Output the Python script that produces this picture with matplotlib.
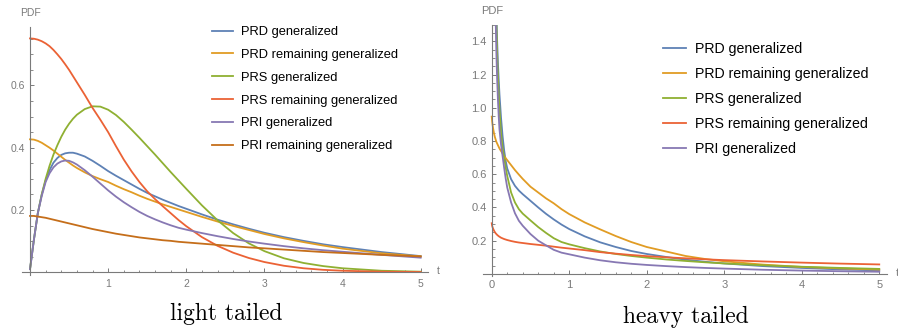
import matplotlib
matplotlib.use('Agg')
import matplotlib.pyplot as plt
import numpy as np
from matplotlib.ticker import MultipleLocator

# ---- data ----
labels = ['PRD generalized', 'PRD remaining generalized', 'PRS generalized',
          'PRS remaining generalized', 'PRI generalized', 'PRI remaining generalized']
colors = ['#5E81B5', '#E19C24', '#8FB032', '#EB6235', '#8778B3', '#C56E1A']

light_t = [0, .05, .1, .15, .2, .25, .3, .35, .4, .45, .5, .55, .6,
           .7, .8, .9, 1.0,
           1.1, 1.2, 1.3, 1.4, 1.5, 1.6, 1.7, 1.8, 1.9, 2.0,
           2.2, 2.4, 2.6, 2.8, 3.0,
           3.25, 3.5, 3.75, 4.0,
           4.5, 5.0]
light_prd = [.01, .105, .19, .25, .295, .328, .352, .367, .377, .382, .384, .384, .381,
             .372, .358, .342, .325,
             .31, .296, .282, .268, .255, .244, .233, .223, .213, .204,
             .186, .169, .154, .14, .127,
             .113, .101, .09, .081,
             .065, .052]
light_prd_rem = [.427, .426, .422, .416, .408, .4, .391, .381, .371, .361, .352, .343, .335,
                 .321, .309, .299, .29,
                 .278, .267, .257, .246, .236, .227, .218, .21, .202, .194,
                 .178, .163, .149, .136, .123,
                 .109, .097, .086, .076,
                 .061, .051]
light_prs = [.01, .105, .19, .25, .30, .342, .378, .408, .435, .458, .477, .493, .506,
             .524, .533, .532, .522,
             .505, .483, .458, .432, .405, .378, .35, .322, .295, .268,
             .215, .167, .126, .093, .068,
             .045, .03, .02, .013,
             .005, .002]
light_prs_rem = [.751, .75, .747, .742, .735, .726, .714, .7, .685, .668, .65, .63, .61,
                 .57, .528, .49, .45,
                 .405, .362, .324, .29, .26, .235, .212, .19, .168, .148,
                 .113, .085, .063, .046, .033,
                 .021, .013, .008, .005,
                 .002, .001]
light_pri = [.01, .105, .19, .245, .29, .318, .337, .349, .356, .359, .358, .353, .346,
             .328, .307, .285, .263,
             .243, .225, .209, .194, .181, .17, .16, .151, .143, .137,
             .126, .116, .107, .099, .092,
             .084, .077, .071, .066,
             .056, .047]
light_pri_rem = [.181, .181, .179, .177, .175, .172, .169, .166, .163, .16, .157, .154, .151,
                 .145, .139, .134, .129,
                 .124, .12, .116, .112, .109, .106, .103, .101, .098, .096,
                 .092, .088, .084, .08, .077,
                 .073, .069, .065, .062,
                 .056, .051]

nan = np.nan
heavy_t = [0, .005, .01, .02, .03, .04, .05, .06, .07, .08, .09, .1,
           .12, .14, .16, .18, .2,
           .25, .3, .35, .4,
           .5, .6, .7, .8, .9, 1.0,
           1.2, 1.4, 1.6, 1.8, 2.0,
           2.25, 2.5, 2.75, 3.0,
           3.5, 4.0, 4.5, 5.0]
heavy_prd = [nan, nan, nan, nan, nan, 2.3, 1.85, 1.58, 1.4, 1.27, 1.17, 1.08,
             .94, .83, .745, .68, .635,
             .57, .53, .502, .48,
             .44, .40, .362, .328, .297, .27,
             .226, .19, .162, .138, .12,
             .102, .086, .073, .063,
             .047, .036, .027, .021]
heavy_prd_rem = [.947, .92, .9, .87, .845, .825, .81, .795, .785, .775, .765, .755,
                 .74, .725, .71, .697, .685,
                 .655, .625, .598, .572,
                 .525, .49, .455, .425, .39, .36,
                 .31, .268, .228, .192, .162,
                 .135, .108, .09, .076,
                 .056, .042, .033, .026]
heavy_prs = [nan, nan, nan, nan, nan, 2.2, 1.75, 1.5, 1.32, 1.19, 1.08, .99,
             .85, .76, .70, .64, .59,
             .49, .43, .39, .363,
             .322, .282, .247, .215, .192, .178,
             .155, .135, .12, .108, .098,
             .087, .078, .07, .063,
             .052, .043, .036, .03]
heavy_prs_rem = [.305, .29, .282, .27, .26, .252, .245, .24, .235, .231, .227, .224,
                 .218, .214, .21, .207, .204,
                 .198, .193, .189, .186,
                 .18, .175, .17, .164, .158, .153,
                 .143, .131, .122, .114, .107,
                 .1, .094, .088, .083,
                 .075, .068, .062, .057]
heavy_pri = [nan, nan, nan, nan, 2.4, 1.9, 1.55, 1.33, 1.17, 1.05, .95, .87,
             .78, .71, .64, .575, .52,
             .43, .365, .32, .29,
             .24, .2, .172, .145, .128, .118,
             .098, .082, .07, .061, .054,
             .047, .041, .036, .032,
             .025, .02, .016, .013]

W, H = 898, 331
GRAY = '#7a7a7a'
SANS = ['Liberation Sans', 'DejaVu Sans']

fig = plt.figure(figsize=(W / 100, H / 100), dpi=100)


def px_axes(left, right, top, bottom):
    return fig.add_axes([left / W, 1 - bottom / H, (right - left) / W, (bottom - top) / H])


def style_axes(ax, xlim, ylim, xticks, yticks, fs):
    ax.set_xlim(*xlim)
    ax.set_ylim(*ylim)
    for s in ('top', 'right'):
        ax.spines[s].set_visible(False)
    ax.spines['left'].set_position(('data', 0))
    ax.spines['bottom'].set_position(('data', 0))
    for s in ('left', 'bottom'):
        ax.spines[s].set_color(GRAY)
        ax.spines[s].set_linewidth(0.8)
    ax.set_xticks(xticks)
    ax.set_xticklabels([f'{v:g}' for v in xticks])
    ax.set_yticks(yticks)
    ax.set_yticklabels([f'{v:.1f}' for v in yticks])
    ax.xaxis.set_minor_locator(MultipleLocator(0.2))
    ax.yaxis.set_minor_locator(MultipleLocator(0.05))
    ax.tick_params(which='major', direction='in', length=3.2, width=0.7, color=GRAY,
                   labelcolor=GRAY, labelsize=fs)
    ax.tick_params(which='minor', direction='in', length=1.8, width=0.6, color=GRAY)
    ax.tick_params(axis='x', pad=4.5)
    ax.tick_params(axis='y', pad=3.5)
    for lab in ax.get_xticklabels() + ax.get_yticklabels():
        lab.set_family(SANS)
    ax.annotate('PDF', (0, ylim[1]), xytext=(0, 14), textcoords='offset pixels',
                ha='center', va='center', color=GRAY, fontsize=fs, family=SANS,
                annotation_clip=False)
    ax.annotate('t', (xlim[1], 0), xytext=(10, 1), textcoords='offset pixels',
                ha='center', va='center', color=GRAY, fontsize=fs, family=SANS,
                annotation_clip=False)


# ---- light tailed ----
ax1 = px_axes(22.2, 428.5, 27.2, 274.8)
light = [light_prd, light_prd_rem, light_prs, light_prs_rem, light_pri, light_pri_rem]
for ys, c, lab in zip(light, colors, labels):
    ax1.plot(light_t, ys, color=c, lw=1.3, label=lab)
style_axes(ax1, (-0.1, 5.1), (-0.008, 0.787), [1, 2, 3, 4, 5], [0.2, 0.4, 0.6], 7.5)
ax1.legend(loc='upper left', bbox_to_anchor=(212.3 / W, 1 - 26.2 / H),
           bbox_transform=fig.transFigure, frameon=False, borderpad=0, borderaxespad=0,
           handlelength=1.57, handletextpad=0.64, labelspacing=0.83,
           prop={'family': SANS, 'size': 9.3})

# ---- heavy tailed ----
ax2 = px_axes(483.2, 887.0, 24.75, 275.9)
heavy = [heavy_prd, heavy_prd_rem, heavy_prs, heavy_prs_rem, heavy_pri]
for ys, c, lab in zip(heavy, colors, labels):
    ax2.plot(heavy_t, ys, color=c, lw=1.3, label=lab)
style_axes(ax2, (-0.11, 5.1), (-0.012, 1.5), [0, 1, 2, 3, 4, 5],
           [0.2, 0.4, 0.6, 0.8, 1.0, 1.2, 1.4], 8)
ax2.legend(loc='upper left', bbox_to_anchor=(663.3 / W, 1 - 42 / H),
           bbox_transform=fig.transFigure, frameon=False, borderpad=0, borderaxespad=0,
           handlelength=1.58, handletextpad=0.66, labelspacing=0.77,
           prop={'family': SANS, 'size': 10.2})

fig.text(225.8 / W, 1 - 320 / H, 'light tailed', ha='center', va='baseline',
         family='cmr10', fontsize=17)
fig.text(685.8 / W, 1 - 323 / H, 'heavy tailed', ha='center', va='baseline',
         family='cmr10', fontsize=17)

fig.savefig('out.png', dpi=100)
